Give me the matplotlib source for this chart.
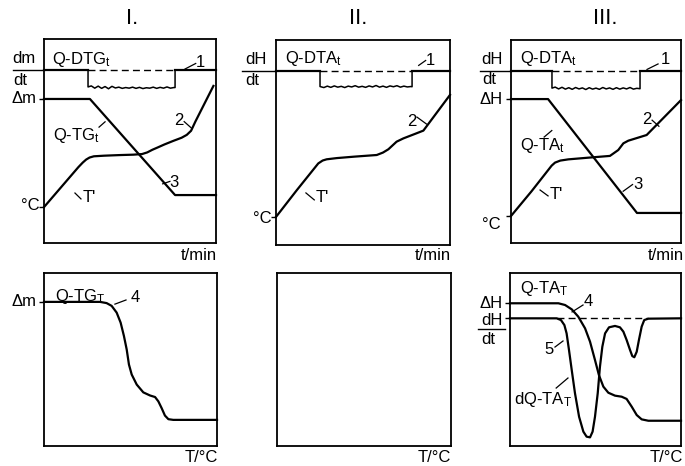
import matplotlib
matplotlib.use('Agg')
import matplotlib.pyplot as plt

plt.rcParams['font.family'] = ['Liberation Sans', 'DejaVu Sans']
plt.rcParams['mathtext.default'] = 'regular'

# ---------------- data (arbitrary units, 0..100 on each panel) ----------------
titles = ['I.', 'II.', 'III.']

# Panel I (time domain): DTG_t, TG_t and temperature T'
I_dtg_level = 84.8
I_wave_x = [25.6, 27.5, 29.5, 31.5, 33.5, 35.5, 37.5, 39.5, 41.5, 43.5, 45.5, 47.5, 49.5,
            51.5, 53.5, 55.5, 57.5, 59.5, 61.5, 63.5, 65.5, 67.5, 69.5, 71.5, 73.5, 75.5, 76.2]
I_wave_y = [76.5, 77.0, 75.9, 76.9, 75.8, 76.7, 75.6, 76.8, 76.0, 76.4, 75.8, 76.2, 75.9,
            76.4, 75.8, 76.3, 75.7, 76.1, 75.9, 76.4, 75.8, 76.3, 75.9, 76.5, 75.9, 76.2, 76.2]
I_tg_x = [0, 26.7, 76.2, 100]
I_tg_y = [70.6, 70.6, 23.5, 23.5]
I_temp_x = [0, 10, 20, 22.5, 24.5, 26.5, 29, 35, 44, 52, 57, 60, 63, 66, 70, 75, 80, 83, 85.5, 88, 98.5]
I_temp_y = [17.6, 27.4, 37.2, 39.4, 40.9, 41.9, 42.5, 42.8, 43.1, 43.3, 43.6, 44.4, 45.7, 46.8,
            48.3, 50.0, 51.6, 53.0, 55.0, 59.5, 77.0]

# Panel II (time domain): DTA_t and temperature T'
II_dta_level = 84.9
II_wave_x = [25.3, 27.5, 29.5, 31.5, 33.5, 35.5, 37.5, 39.5, 41.5, 43.5, 45.5, 47.5, 49.5, 51.5,
             53.5, 55.5, 57.5, 59.5, 61.5, 63.5, 65.5, 67.5, 69.5, 71.5, 73.5, 75.5, 77.5, 78.2]
II_wave_y = [77.3, 76.8, 77.5, 76.9, 77.6, 77.0, 77.4, 76.8, 77.5, 77.1, 77.7, 77.0, 77.4, 76.9,
             77.6, 77.1, 77.8, 77.0, 77.5, 76.9, 77.6, 77.2, 77.7, 77.0, 77.5, 77.1, 77.3, 77.2]
II_temp_x = [0, 12, 24.3, 26.8, 29.1, 35, 45, 57.9, 61.5, 64.6, 69.3, 73.2, 80.8, 84.7, 100]
II_temp_y = [13.7, 26.8, 39.8, 41.2, 41.8, 42.4, 43.1, 43.9, 45.1, 46.7, 50.4, 52.0, 54.5, 55.8, 73.2]

# Panel III (time domain): DTA_t, TA_t and temperature T'
III_dta_level = 84.7
III_wave_x = [24.1, 26.0, 28.0, 30.0, 32.0, 34.0, 36.0, 38.0, 40.0, 42.0, 44.0, 46.0, 48.0, 50.0,
              52.0, 54.0, 56.0, 58.0, 60.0, 62.0, 64.0, 66.0, 68.0, 70.0, 72.0, 74.0, 75.9]
III_wave_y = [76.3, 76.8, 75.9, 76.7, 75.8, 76.5, 75.7, 76.6, 75.9, 76.4, 75.6, 76.5, 75.8, 76.3,
              75.7, 76.6, 75.9, 76.4, 75.7, 76.5, 75.8, 76.4, 75.9, 76.6, 75.8, 76.2, 76.0]
III_ta_x = [0, 21.8, 74.1, 100]
III_ta_y = [70.9, 70.9, 14.8, 14.8]
III_temp_x = [0, 12, 23.9, 25.9, 29, 33.7, 45, 58.2, 63.1, 66.1, 69.0, 79.8, 100]
III_temp_y = [13.3, 25.4, 38.1, 39.6, 40.6, 41.2, 42.0, 42.9, 45.8, 49.1, 50.4, 53.2, 70.4]

# Bottom I: TG_T against temperature
Ib_tg_x = [0, 32.4, 36.2, 39.1, 42.0, 44.3, 46.2, 47.8, 49.1, 50.7, 53.6, 57.4, 61.3, 64.2,
           66.1, 68.0, 69.9, 71.9, 74.7, 100]
Ib_tg_y = [83.3, 83.3, 82.6, 81.0, 77.1, 71.3, 63.6, 55.8, 47.1, 41.3, 35.5, 31.0, 29.2, 28.3,
           25.8, 21.9, 17.6, 15.5, 15.1, 15.1]

# Bottom III: TA_T and dTA_T against temperature
IIIb_ta_x = [0, 28.3, 32.2, 36.1, 39.9, 43.9, 46.8, 49.7, 52.0, 54.6, 57.5, 61.4, 65.3, 68.2,
             71.2, 74.1, 77.0, 80.9, 100]
IIIb_ta_y = [82.5, 82.5, 81.5, 79.0, 74.8, 68.0, 60.3, 49.7, 41.0, 34.3, 30.8, 29.1, 28.5, 27.2,
             22.7, 17.9, 15.4, 14.6, 14.6]
IIIb_dta_level = 73.8
IIIb_dta_x = [0, 27.3, 29.8, 31.8, 33.1, 34.5, 36.1, 38.0, 40.4, 42.9, 44.8, 46.8, 48.3, 49.7,
              51.3, 52.6, 54.0, 55.6, 57.9, 61.4, 64.3, 66.3, 68.2, 70.2, 71.5, 72.7, 74.1, 75.4,
              77.0, 78.5, 80.9, 100]
IIIb_dta_y = [73.8, 73.8, 72.8, 69.9, 65.1, 55.5, 43.9, 30.5, 16.9, 8.3, 5.4, 5.0, 8.3, 16.9,
              30.5, 45.8, 57.4, 65.1, 68.6, 69.4, 68.6, 66.1, 61.3, 55.5, 52.0, 51.3, 54.5, 61.3,
              69.0, 72.8, 73.6, 73.8]

# ---------------- drawing ----------------
W, H = 685, 466
fig = plt.figure(figsize=(W / 100, H / 100), dpi=100)
fig.patch.set_facecolor('white')

def box(l, t, r, b):
    return [l / W, 1 - b / H, (r - l) / W, (b - t) / H]

FS = 12
K = 'black'

def setup(ax, yticks):
    ax.set_xlim(0, 100)
    ax.set_ylim(0, 100)
    ax.set_xticks([])
    ax.set_yticks(yticks)
    ax.set_yticklabels([])
    ax.tick_params(axis='y', length=3.5, width=1.0, direction='out', color=K)
    for s in ax.spines.values():
        s.set_linewidth(1.3)

def curve(ax, x, y, lw=1.6):
    ax.plot(x, y, color=K, lw=lw, clip_on=False, solid_joinstyle='round')

def dashed(ax, x0, x1, y):
    ax.plot([x0, x1], [y, y], color=K, lw=1.0, dashes=(5, 3), clip_on=False)

def leader(ax, p0, p1):
    ax.plot([p0[0], p1[0]], [p0[1], p1[1]], color=K, lw=0.9, clip_on=False)

def txt(ax, x, y, s, ha='left', va='center', fs=None):
    ax.text(x, y, s, ha=ha, va=va, fontsize=fs or FS, clip_on=False)

def frac(ax, num, x_num, y_num, x_den, y_den, x0, x1, ybar):
    txt(ax, x_num, y_num, num, ha='center')
    txt(ax, x_den, y_den, 'dt', ha='center')
    ax.plot([x0, x1], [ybar, ybar], color=K, lw=1.0, clip_on=False)

def dtg_line(ax, level, wx, wy):
    curve(ax, [wx[0]] + wx + [wx[-1]], [level] + wy + [level], lw=1.1)
    curve(ax, [0, wx[0]], [level, level])
    curve(ax, [wx[-1], 100], [level, level])
    dashed(ax, wx[0], wx[-1], level)

# ---- Top I ----
a1 = fig.add_axes(box(44, 39, 216, 243))
setup(a1, [I_tg_y[0], I_temp_y[0]])
dtg_line(a1, I_dtg_level, I_wave_x, I_wave_y)
curve(a1, I_tg_x, I_tg_y)
curve(a1, I_temp_x, I_temp_y)
txt(a1, 4.7, 90.0, 'Q-DTG$_{t}$')
txt(a1, 91.2, 88.6, '1', ha='center')
leader(a1, (82, 85.3), (88.2, 88.0))
txt(a1, 5.2, 52.5, 'Q-TG$_{t}$')
leader(a1, (32.0, 56.8), (35.5, 59.4))
txt(a1, 78.5, 60.0, '2', ha='center')
leader(a1, (81.5, 59.5), (85.5, 56.5))
txt(a1, 75.8, 29.5, '3', ha='center')
leader(a1, (69.0, 29.0), (73.2, 30.2))
leader(a1, (18.0, 24.5), (21.5, 21.6))
txt(a1, 22.3, 22.5, "T'")
frac(a1, 'dm', -11.5, 90.5, -13.6, 79.6, -18.0, 0, I_dtg_level)
txt(a1, -4.2, I_tg_y[0], 'Δm', ha='right')
txt(a1, -2.4, I_temp_y[0] + 0.8, '°C', ha='right')

# ---- Top II ----
a2 = fig.add_axes(box(276, 40, 450, 245))
setup(a2, [II_temp_y[0]])
dtg_line(a2, II_dta_level, II_wave_x, II_wave_y)
curve(a2, II_temp_x, II_temp_y)
txt(a2, 5.2, 91.2, 'Q-DTA$_{t}$')
txt(a2, 89.0, 90.2, '1', ha='center')
leader(a2, (82.0, 87.6), (86.0, 90.0))
txt(a2, 78.2, 60.0, '2', ha='center')
leader(a2, (81.0, 62.4), (86.5, 59.0))
leader(a2, (17.2, 25.4), (22.0, 22.0))
txt(a2, 23.0, 23.4, "T'")
frac(a2, 'dH', -11.8, 90.7, -13.8, 80.3, -19.5, 0, II_dta_level)
txt(a2, -2.6, II_temp_y[0] - 0.8, '°C', ha='right')

# ---- Top III ----
a3 = fig.add_axes(box(511, 40, 681, 243))
setup(a3, [III_ta_y[0], III_temp_y[0]])
dtg_line(a3, III_dta_level, III_wave_x, III_wave_y)
curve(a3, III_ta_x, III_ta_y)
curve(a3, III_temp_x, III_temp_y)
txt(a3, 5.3, 90.8, 'Q-DTA$_{t}$')
txt(a3, 90.8, 90.4, '1', ha='center')
leader(a3, (80.0, 85.5), (86.5, 88.2))
txt(a3, 5.3, 47.8, 'Q-TA$_{t}$')
leader(a3, (19.5, 52.2), (24.0, 55.4))
txt(a3, 80.0, 61.0, '2', ha='center')
leader(a3, (83.0, 60.5), (87.0, 57.5))
txt(a3, 74.8, 28.8, '3', ha='center')
leader(a3, (66.0, 25.5), (71.5, 28.8))
leader(a3, (17.1, 26.1), (21.8, 23.2))
txt(a3, 22.9, 24.0, "T'")
frac(a3, 'dH', -11.5, 90.6, -13.0, 80.6, -18.2, 0, III_dta_level)
txt(a3, -5.0, III_ta_y[0], 'ΔH', ha='right')
txt(a3, -6.3, 8.9, '°C', ha='right')

# ---- Bottom I ----
b1 = fig.add_axes(box(44, 273, 217, 446))
setup(b1, [Ib_tg_y[0]])
curve(b1, Ib_tg_x, Ib_tg_y)
txt(b1, 6.4, 86.5, 'Q-TG$_{T}$')
txt(b1, 52.5, 86.0, '4', ha='center')
leader(b1, (41.0, 82.0), (47.4, 84.4))
txt(b1, -4.4, Ib_tg_y[0], 'Δm', ha='right')

# ---- Bottom II ----
b2 = fig.add_axes(box(277, 273, 451, 446))
setup(b2, [])

# ---- Bottom III ----
b3 = fig.add_axes(box(510, 273, 681, 446))
setup(b3, [IIIb_ta_y[0], IIIb_dta_level])
curve(b3, IIIb_ta_x, IIIb_ta_y)
curve(b3, IIIb_dta_x, IIIb_dta_y)
dashed(b3, IIIb_dta_x[1], IIIb_dta_x[-2], IIIb_dta_level)
txt(b3, 5.8, 91.0, 'Q-TA$_{T}$')
txt(b3, 46.0, 83.6, '4', ha='center')
leader(b3, (36.3, 77.5), (42.7, 81.5))
txt(b3, 23.0, 55.5, '5', ha='center')
leader(b3, (26.3, 57.2), (31.0, 60.7))
txt(b3, 2.5, 26.6, 'dQ-TA$_{T}$')
leader(b3, (27.0, 33.5), (33.9, 39.3))
txt(b3, -4.5, IIIb_ta_y[0], 'ΔH', ha='right')
frac(b3, 'dH', -10.8, 72.8, -12.6, 61.6, -18.7, -2.9, 67.6)

# ---- titles and axis names ----
title_x = [132, 358, 605]
for tx, t in zip(title_x, titles):
    fig.text(tx / W, 1 - 19 / H, t, ha='center', va='center', fontsize=16)
for rx in [217, 451, 684]:
    fig.text(rx / W, 1 - 256 / H, 't/min', ha='right', va='center', fontsize=FS)
for rx in [218, 451, 683]:
    fig.text(rx / W, 1 - 458 / H, 'T/°C', ha='right', va='center', fontsize=FS)

fig.savefig('out.png', dpi=100, facecolor='white')
